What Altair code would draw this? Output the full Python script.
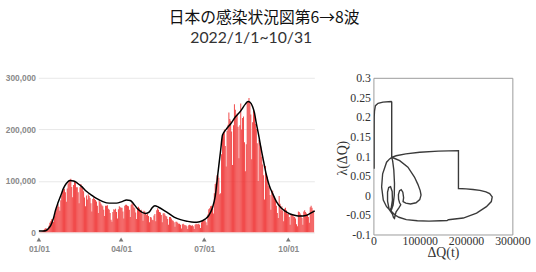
import altair as alt
import pandas as pd

title_text = "日本の感染状況図第6→8波"
subtitle_text = "2022/1/1~10/31"

# daily new cases (thousands), 2022-01-01 .. 2022-10-31
jan = [0.5, 0.6, 0.8, 1.3, 2.6, 4.5, 6.2, 8.5, 8.2, 6.4, 6.4, 13.2, 18.9, 22.0, 25.7, 25.6, 20.7, 32.2, 41.5, 46.2,
       49.9, 54.6, 50.2, 42.0, 62.6, 71.6, 78.9, 81.8, 84.9, 78.0, 59.9]
feb = [85.2, 94.9, 101.0, 102.3, 104.5, 88.3, 68.6, 92.2, 97.8, 96.0, 88.0, 88.0, 78.0, 57.0, 88.0, 94.0, 90.0, 86.0,
       80.0, 68.0, 51.0, 72.0, 64.0, 74.0, 71.0, 67.0, 57.0, 41.0]
mar = [65, 68, 65, 63, 60, 52, 38, 62, 59, 56, 53, 51, 44, 32, 52, 52, 53, 46, 44, 38, 25, 21, 40, 45, 44, 46, 40, 27,
       45, 51, 49]
apr = [48, 48, 41, 27, 52, 54, 54, 52, 51, 44, 30, 54, 57, 55, 49, 47, 39, 26, 48, 50, 47, 43, 44, 37, 23, 42, 41, 37,
       34, 36]
may = [32, 20, 30, 29, 25, 24, 33, 36, 22, 43, 47, 44, 40, 39, 34, 20, 37, 38, 35, 32, 31, 26, 15, 30, 30, 27, 24, 23,
       20, 11, 21]
jun = [21, 19, 17, 17, 15, 8, 16, 17, 15, 14, 14, 12, 7, 14, 15, 14, 13, 14, 12, 7, 15, 17, 16, 16, 17, 15, 9, 20, 23, 23]
jul = [23, 24, 20, 14, 35, 45, 47, 51, 52, 46, 37, 76, 94, 97, 111, 110, 106, 74, 76, 152, 186, 195, 200, 168, 128, 197,
       209, 233, 220, 217, 196]
aug = [131, 208, 249, 238, 228, 231, 205, 144, 208, 250, 200, 222, 225, 175, 119, 171, 254, 255, 261, 253, 229, 142,
       214, 237, 229, 211, 201, 173, 100, 180, 174]
sep = [167, 147, 132, 111, 64, 129, 114, 108, 90, 88, 73, 44, 82, 81, 70, 70, 62, 52, 38, 28, 71, 56, 43, 51, 42, 22,
       46, 48, 43, 36]
oct_ = [36, 30, 15, 34, 36, 34, 31, 30, 27, 16, 12, 41, 40, 37, 34, 28, 15, 41, 43, 40, 37, 36, 30, 19, 49, 52, 48, 43,
        42, 38, 22]
daily_k = jan + feb + mar + apr + may + jun + jul + aug + sep + oct_

tick_days = [0, 90, 181, 273]
tick_labels = ["01/01", "04/01", "07/01", "10/01"]
y_ticks = [0, 50000, 100000, 150000, 200000, 250000, 300000]

# smooth model curve (day index, thousands)
curve_days = [0, 5, 8, 10, 13, 16, 18, 21, 24, 27, 30, 34, 38, 42, 47, 52, 58, 63, 70, 77, 85, 91, 96, 100, 104, 108,
              113, 117, 121, 124, 127, 131, 136, 142, 148, 155, 162, 170, 176, 182, 186, 190, 193, 196, 199, 201, 205,
              210, 215, 221, 226, 229, 231, 234, 236, 238, 241, 243, 246, 249, 252, 256, 260, 265, 270, 275, 281, 286,
              292, 297, 302]
curve_k = [3, 3, 4, 7, 14, 28, 42, 58, 72, 86, 95, 101, 100, 96, 89, 80, 72, 66, 60, 57, 57, 60, 63, 62, 55, 46,
           39, 37, 40, 48, 52, 49, 44, 37, 30, 25, 22, 20, 21, 26, 33, 48, 70, 115, 160, 189, 200,
           211, 224, 236, 249, 254, 253, 244, 232, 212, 185, 165, 138, 112, 92, 75, 60, 48, 41, 36, 33, 32,
           33, 37, 42]

# phase trajectory: dQ (thousands) and lambda
phase_q = [1.5, 1.5, 1.7, 2.3, 4.3, 10, 20.6, 38.3, 39.5,
           39.5,
           46, 56.7, 74.5, 88.6, 96, 101, 102.8, 100, 92, 80, 70, 64,
           65.2, 63.5, 60, 56.5, 54, 54.3, 56.5, 59,
           55, 49, 46.5, 45.5, 43.5, 41,
           34, 30.5, 30.5, 33, 37, 40.5, 41, 38.5, 35.5,
           28.4, 21.3, 17.7, 19.9, 28.4, 35, 39.5,
           49, 70, 100, 140, 183.6,
           183.6,
           200, 215, 230, 243, 251, 256.5, 254.6, 244, 222.8, 194, 162, 159, 145, 120, 95, 71, 55, 46, 38,
           42.5, 45, 45.5, 44, 41.5, 39.5]
phase_lam = [0.068, 0.15, 0.20, 0.215, 0.229, 0.235, 0.238, 0.2396, 0.238,
             0.097,
             0.094, 0.0886, 0.0719, 0.0467, 0.028, 0.012, 0.0006, -0.011, -0.019, -0.022, -0.020, -0.016,
             -0.006, 0.008, 0.0145, 0.012, 0.002, -0.01, -0.019, -0.024,
             -0.032, -0.042, -0.052, -0.059, -0.057, -0.048,
             -0.036, -0.015, 0.008, 0.02, 0.022, 0.01, -0.012, -0.032, -0.038,
             -0.029, -0.012, 0.0216, 0.055, 0.0845, 0.093, 0.097,
             0.101, 0.106, 0.110, 0.1128, 0.114,
             0.0175,
             0.0165, 0.015, 0.0126, 0.009, 0.0045, -0.004, -0.016, -0.029, -0.0455, -0.058, -0.0623, -0.0645,
             -0.065, -0.066, -0.065, -0.062, -0.056, -0.0497, -0.04,
             -0.025, 0.0, 0.03, 0.065, 0.088, 0.097]
phase_x_ticks = [0, 100000, 200000, 300000]
phase_y_ticks = [-0.1, -0.05, 0, 0.05, 0.1, 0.15, 0.2, 0.25, 0.3]

# ---------------- left chart ----------------
bars_df = pd.DataFrame({"day": list(range(len(daily_k))), "cases": [v * 1000 for v in daily_k]})
curve_df = pd.DataFrame({"day": curve_days, "cases": [v * 1000 for v in curve_k]})
ticks_df = pd.DataFrame({"day": tick_days, "label": tick_labels})

label_expr = " : ".join(f"datum.value == {d} ? '{l}'" for d, l in zip(tick_days, tick_labels)) + " : ''"

LW, LH = 280, 157
xscale = alt.Scale(domain=[-0.5, 301.5], nice=False, zero=False)
yscale = alt.Scale(domain=[0, 300000], nice=False)

gray_font = dict(labelFont="Liberation Sans", labelFontSize=8.5, labelFontWeight="bold", labelColor="#8a8a8a")

bars = alt.Chart(bars_df).transform_calculate(
    x0="datum.day - 0.48", x1="datum.day + 0.48"
).mark_bar(color="#ef3434", clip=True).encode(
    x=alt.X("x0:Q", scale=xscale,
            axis=alt.Axis(values=tick_days, labelExpr=label_expr, title=None, domain=False, ticks=False,
                          grid=False, labelPadding=12, labelFlush=False, labelOverlap=False, **gray_font)),
    x2="x1:Q",
    y=alt.Y("cases:Q", scale=yscale,
            axis=alt.Axis(values=y_ticks, format=",d", title=None, domain=False, ticks=False,
                          gridColor="#e8e8e8", labelPadding=3, labelOverlap=False, **gray_font)),
    y2=alt.datum(0),
)

curve = alt.Chart(curve_df).mark_line(color="#000000", strokeWidth=1.5, interpolate="monotone").encode(
    x="day:Q", y="cases:Q"
)

tris = alt.Chart(ticks_df).mark_point(shape="triangle-up", filled=True, color="#777777", size=22, opacity=1).encode(
    x="day:Q", y=alt.value(LH + 7)
)

left = alt.layer(bars, curve, tris).properties(width=LW, height=LH)

# ---------------- right chart ----------------
phase_df = pd.DataFrame({"idx": list(range(len(phase_q))), "q": [v * 1000 for v in phase_q], "lam": phase_lam})
serif = dict(labelFont="Liberation Serif", labelFontSize=12, labelColor="#333333",
             titleFont="Liberation Serif", titleFontSize=14, titleFontWeight="normal", titleColor="#333333")

RW, RH = 141, 159
right = alt.Chart(phase_df).mark_line(color="#3a3a3a", strokeWidth=1.4, clip=True).encode(
    x=alt.X("q:Q", scale=alt.Scale(domain=[0, 300000], nice=False),
            axis=alt.Axis(values=phase_x_ticks, labelExpr="'' + datum.value", title="ΔQ(t)", domain=False,
                          ticks=False, grid=False, labelPadding=1, labelFlush=False, labelOverlap=False,
                          titleY=18, titleBaseline="middle", **serif)),
    y=alt.Y("lam:Q", scale=alt.Scale(domain=[-0.1, 0.3], nice=False, zero=False),
            axis=alt.Axis(values=phase_y_ticks, labelExpr="'' + datum.value", title="λ(ΔQ)", domain=False,
                          ticks=False, grid=False, labelPadding=3, labelOverlap=False,
                          titleX=-31, titleY=81, titleBaseline="middle", **serif)),
    order="idx:Q",
).properties(width=RW, height=RH, view=alt.ViewBackground(stroke="#9a9a9a", strokeWidth=1))

# ---------------- title block ----------------
title_df = pd.DataFrame({"title": [title_text], "sub": [subtitle_text]})
t_main = alt.Chart(title_df).mark_text(font="Noto Sans CJK JP", fontSize=16, color="#111111",
                                       align="center", baseline="middle").encode(
    text="title:N", x=alt.value(229), y=alt.value(11))
t_sub = alt.Chart(title_df).mark_text(font="Lato", fontSize=16, color="#333333",
                                      align="center", baseline="middle").encode(
    text="sub:N", x=alt.value(216), y=alt.value(32))
title_block = alt.layer(t_main, t_sub).properties(width=500, height=50)

chart = alt.vconcat(
    title_block,
    alt.hconcat(left, right, spacing=17),
    spacing=15,
).properties(
    padding={"left": 5, "top": 5, "right": 5, "bottom": 5},
    background="white",
).configure_view(strokeWidth=0)

chart.save("out.html", embed_options={"renderer": "svg", "actions": False})
